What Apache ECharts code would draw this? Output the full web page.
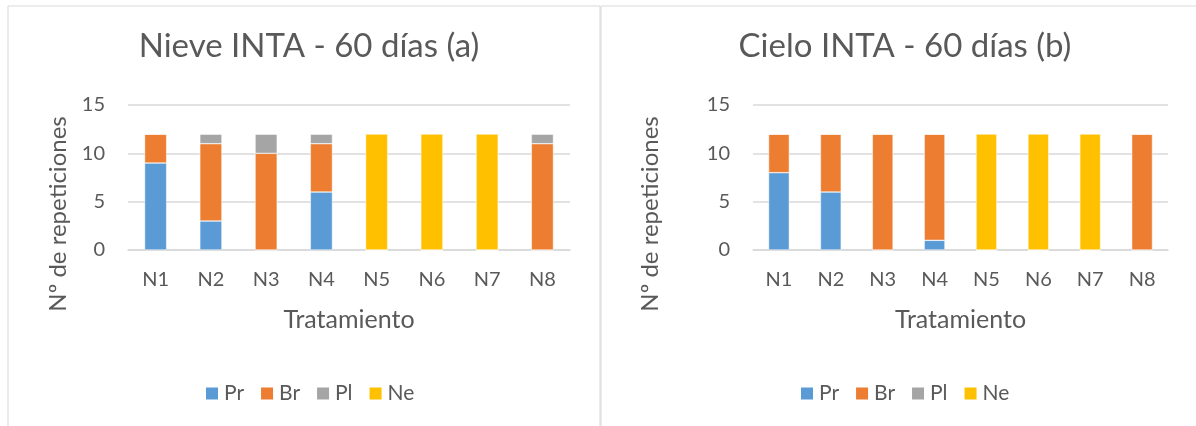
<!DOCTYPE html>
<html>
<head>
<meta charset="utf-8">
<script src="https://cdn.jsdelivr.net/npm/echarts@6/dist/echarts.min.js"></script>
<style>
  html, body { margin: 0; padding: 0; background: #fff; }
  #chart { width: 1196px; height: 426px; }
</style>
</head>
<body>
<div id="chart"></div>
<script>
const categories = ['N1', 'N2', 'N3', 'N4', 'N5', 'N6', 'N7', 'N8'];
const seriesNames = ['Pr', 'Br', 'Pl', 'Ne'];

// Nieve INTA - 60 días (a)
const nievePr = [9, 3, 0, 6, 0, 0, 0, 0];
const nieveBr = [3, 8, 10, 5, 0, 0, 0, 11];
const nievePl = [0, 1, 2, 1, 0, 0, 0, 1];
const nieveNe = [0, 0, 0, 0, 12, 12, 12, 0];

// Cielo INTA - 60 días (b)
const cieloPr = [8, 6, 0, 1, 0, 0, 0, 0];
const cieloBr = [4, 6, 12, 11, 0, 0, 0, 12];
const cieloPl = [0, 0, 0, 0, 0, 0, 0, 0];
const cieloNe = [0, 0, 0, 0, 12, 12, 12, 0];

const yTicks = [0, 5, 10, 15];

const colors = ['#5b9bd5', '#ed7d31', '#a5a5a5', '#ffc000'];
const font = 'Lato, "Open Sans", sans-serif';
const txt = '#595959';

const chart = echarts.init(document.getElementById('chart'));

function xAxis(gridIndex) {
  return {
    type: 'category',
    gridIndex: gridIndex,
    data: categories,
    axisLine: { lineStyle: { color: '#d9d9d9', width: 1.5 } },
    axisTick: { show: false },
    axisLabel: { color: txt, fontFamily: font, fontSize: 20, margin: 20 },
    name: 'Tratamiento',
    nameLocation: 'middle',
    nameGap: 57,
    nameTextStyle: { color: txt, fontFamily: font, fontSize: 25 }
  };
}

function yAxis(gridIndex, nameGap) {
  return {
    type: 'value',
    gridIndex: gridIndex,
    min: yTicks[0],
    max: yTicks[yTicks.length - 1],
    interval: 5,
    axisLine: { show: false },
    axisTick: { show: false },
    axisLabel: { color: txt, fontFamily: font, fontSize: 20, margin: 23 },
    splitLine: { lineStyle: { color: '#d9d9d9', width: 1.5 } },
    name: 'Nº de repeticiones',
    nameLocation: 'middle',
    nameGap: nameGap,
    // Excel centres the title lower than the plot area
    nameTextStyle: { color: txt, fontFamily: font, fontSize: 24, padding: [0, 73, 0, 0] }
  };
}

function bars(data, idx) {
  return data.map((vals, i) => ({
    name: seriesNames[i],
    type: 'bar',
    stack: 'total' + idx,
    xAxisIndex: idx,
    yAxisIndex: idx,
    barWidth: '40%',
    data: vals,
    itemStyle: { color: colors[i], borderColor: '#fff', borderWidth: 0.5 },
    emphasis: { disabled: true }
  }));
}

function legend(left) {
  return {
    data: seriesNames,
    left: left,
    top: 378,
    icon: 'rect',
    itemWidth: 14,
    itemHeight: 14,
    itemGap: 15,
    textStyle: { color: txt, fontFamily: font, fontSize: 21 }
  };
}

const titleStyle = { color: txt, fontFamily: font, fontSize: 33, fontWeight: 'normal' };

const option = {
  backgroundColor: '#fff',
  animation: false,
  color: colors,
  title: [
    { text: 'Nieve INTA - 60 días (a)', left: 304, textAlign: 'center', top: 25, textStyle: titleStyle },
    { text: 'Cielo INTA - 60 días (b)', left: 900, textAlign: 'center', top: 25, textStyle: titleStyle }
  ],
  graphic: [
    { type: 'rect', shape: { x: 8, y: 6, width: 592, height: 430 },
      style: { fill: 'none', stroke: '#d9d9d9', lineWidth: 1 }, silent: true },
    { type: 'rect', shape: { x: 601, y: 6, width: 600, height: 430 },
      style: { fill: 'none', stroke: '#d9d9d9', lineWidth: 1 }, silent: true }
  ],
  legend: [legend(199), legend(794)],
  grid: [
    { left: 128, top: 105, width: 442, height: 145 },
    { left: 753, top: 105, width: 415, height: 145 }
  ],
  xAxis: [xAxis(0), xAxis(1)],
  yAxis: [yAxis(0, 58), yAxis(1, 91)],
  series: [
    ...bars([nievePr, nieveBr, nievePl, nieveNe], 0),
    ...bars([cieloPr, cieloBr, cieloPl, cieloNe], 1)
  ]
};

chart.setOption(option);
</script>
</body>
</html>
